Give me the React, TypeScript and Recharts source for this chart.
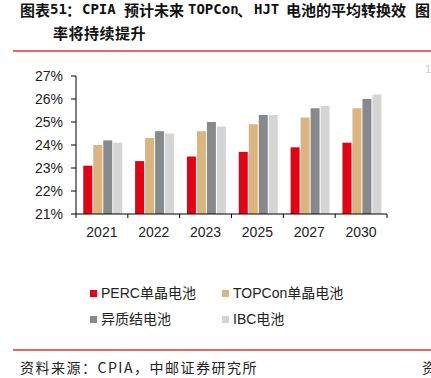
import React from 'react';
import { BarChart, Bar, XAxis, YAxis } from 'recharts';

const years = ['2021', '2022', '2023', '2025', '2027', '2030'];
const percValues = [23.1, 23.3, 23.5, 23.7, 23.9, 24.1];
const topconValues = [24.0, 24.3, 24.6, 24.9, 25.2, 25.6];
const hjtValues = [24.2, 24.6, 25.0, 25.3, 25.6, 26.0];
const ibcValues = [24.1, 24.5, 24.8, 25.3, 25.7, 26.2];
const yTicks = [21, 22, 23, 24, 25, 26, 27];

const seriesNames = ['PERC单晶电池', 'TOPCon单晶电池', '异质结电池', 'IBC电池'];
const seriesKeys = ['perc', 'topcon', 'hjt', 'ibc'];
const seriesColors = ['#E60012', '#DCB47D', '#878A8D', '#D5D5D5'];

const data = years.map((y, i) => ({
  year: y,
  perc: percValues[i],
  topcon: topconValues[i],
  hjt: hjtValues[i],
  ibc: ibcValues[i],
}));

const FONT = "'Liberation Sans', 'Noto Sans CJK SC', sans-serif";
const TITLE_FONT = "'Noto Sans CJK SC', sans-serif";
const MONO_FONT = "'DejaVu Sans Mono', 'Liberation Mono', monospace";

const CHART_W = 431;
const CHART_H = 378;
const MARGIN = { top: 76, right: 44, bottom: 134, left: 0 };
const Y_W = 76;
const BAND = (CHART_W - MARGIN.right - Y_W) / years.length;

const XTick = (props: any) => {
  const { x, y, payload, index } = props;
  const half = payload && typeof payload.offset === 'number' && payload.offset > 0 ? payload.offset : BAND / 2;
  const last = index === years.length - 1;
  return (
    <g>
      <line x1={x - half} y1={y} x2={x - half} y2={y + 4} stroke="#000" strokeWidth={1} />
      {last && <line x1={x + half} y1={y} x2={x + half} y2={y + 4} stroke="#000" strokeWidth={1} />}
      <text x={x} y={y + 18} dy="0.35em" textAnchor="middle" fontSize={14} fill="#222" fontFamily={FONT}>
        {payload.value}
      </text>
    </g>
  );
};

const titleSegments = [
  { text: '图表', left: 20, mono: false },
  { text: '51', left: 50, mono: true },
  { text: '：', left: 66, mono: false },
  { text: 'CPIA', left: 82, mono: true },
  { text: '预计未来', left: 124, mono: false },
  { text: 'TOPCon', left: 188, mono: true },
  { text: '、', left: 237, mono: false },
  { text: 'HJT', left: 254, mono: true },
  { text: '电池的平均转换效', left: 286, mono: false },
  { text: '图', left: 415, mono: false },
];

const legendLeft = [90, 222];
const legendCenter = [293, 319];

export default function App() {
  return (
    <div
      style={{
        position: 'absolute',
        left: 0,
        top: 0,
        width: CHART_W,
        height: CHART_H,
        background: '#fff',
        overflow: 'hidden',
      }}
    >
      {titleSegments.map((s) => (
        <div
          key={s.text}
          style={{
            position: 'absolute',
            left: s.left,
            top: 1,
            height: 17,
            lineHeight: '17px',
            fontSize: s.mono ? 14 : 15,
            fontWeight: 700,
            fontFamily: s.mono ? MONO_FONT : TITLE_FONT,
            color: '#111',
            whiteSpace: 'nowrap',
          }}
        >
          {s.text}
        </div>
      ))}
      <div
        style={{
          position: 'absolute',
          left: 53,
          top: 24,
          height: 17,
          lineHeight: '17px',
          fontSize: 15,
          fontWeight: 700,
          fontFamily: TITLE_FONT,
          color: '#111',
          letterSpacing: 0.5,
          whiteSpace: 'nowrap',
        }}
      >
        率将持续提升
      </div>
      <div style={{ position: 'absolute', left: 13, top: 50, width: 418, height: 1.5, background: '#E4676A' }} />

      <div style={{ position: 'absolute', left: 0, top: 0 }}>
        <BarChart width={CHART_W} height={CHART_H} data={data} margin={MARGIN} barGap={1} barCategoryGap="14%">
          <XAxis
            dataKey="year"
            axisLine={{ stroke: '#000', strokeWidth: 1 }}
            tickLine={false}
            tickSize={0}
            tickMargin={0}
            tick={<XTick />}
            interval={0}
            height={30}
          />
          <YAxis
            width={Y_W}
            domain={[21, 27]}
            ticks={yTicks}
            interval={0}
            allowDataOverflow
            tickFormatter={(v: number) => `${v}%`}
            axisLine={{ stroke: '#000', strokeWidth: 1 }}
            tickLine={{ stroke: '#000', strokeWidth: 1 }}
            tickSize={5}
            tickMargin={8}
            tick={{ fontSize: 14, fill: '#222', fontFamily: FONT }}
          />
          {seriesKeys.map((k, i) => (
            <Bar key={k} dataKey={k} name={seriesNames[i]} fill={seriesColors[i]} isAnimationActive={false} />
          ))}
        </BarChart>
      </div>

      {seriesNames.map((n, i) => (
        <div
          key={n}
          style={{
            position: 'absolute',
            left: legendLeft[i % 2],
            top: legendCenter[Math.floor(i / 2)] - 10,
            height: 20,
            lineHeight: '20px',
            display: 'flex',
            alignItems: 'center',
            fontSize: 14,
            fontFamily: FONT,
            color: '#222',
            whiteSpace: 'nowrap',
          }}
        >
          <span style={{ display: 'inline-block', width: 7, height: 7, background: seriesColors[i], marginRight: 4 }} />
          <span>{n}</span>
        </div>
      ))}

      <div style={{ position: 'absolute', left: 13, top: 349, width: 418, height: 1.5, background: '#E4676A' }} />
      <div
        style={{
          position: 'absolute',
          left: 20,
          top: 358,
          height: 18,
          lineHeight: '18px',
          fontSize: 14,
          fontFamily: TITLE_FONT,
          color: '#222',
          letterSpacing: 1.5,
          whiteSpace: 'nowrap',
        }}
      >
        资料来源：CPIA，中邮证券研究所
      </div>
      <div
        style={{
          position: 'absolute',
          left: 422,
          top: 358,
          height: 18,
          lineHeight: '18px',
          fontSize: 14,
          fontFamily: TITLE_FONT,
          color: '#222',
          whiteSpace: 'nowrap',
        }}
      >
        资
      </div>
      <div
        style={{
          position: 'absolute',
          left: 425,
          top: 63,
          fontSize: 11,
          fontFamily: FONT,
          color: '#ccc',
        }}
      >
        1
      </div>
    </div>
  );
}
